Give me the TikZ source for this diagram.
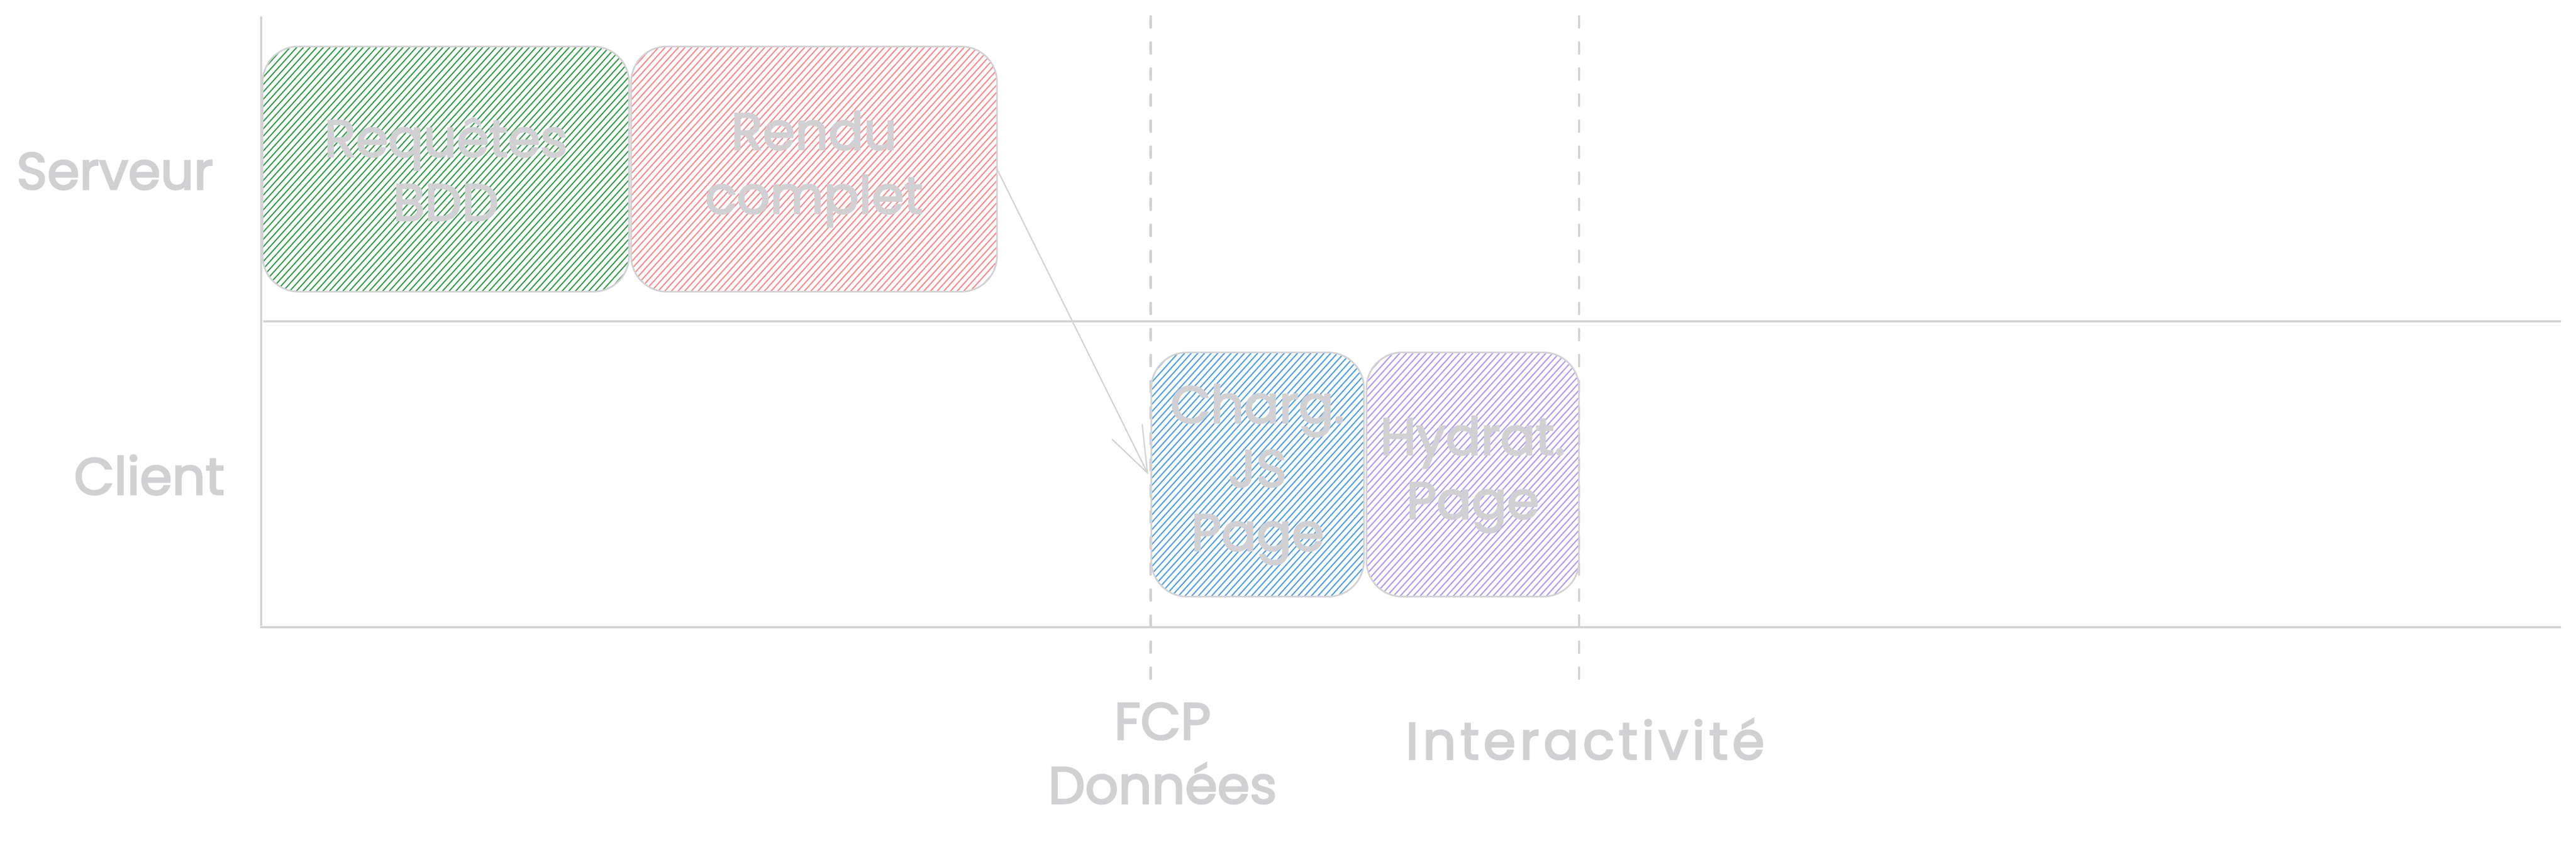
\documentclass[tikz,border=0pt]{standalone}
\usepackage{fontspec}
\setmainfont{Poppins}[FakeBold=3]
\usetikzlibrary{arrows.meta}
\definecolor{txtgray}{RGB}{209,208,211}
\definecolor{lngray}{RGB}{210,210,212}
\definecolor{hgreen}{RGB}{47,158,68}
\definecolor{hred}{RGB}{255,135,135}
\definecolor{hblue}{RGB}{74,158,234}
\definecolor{hviolet}{RGB}{177,151,252}
\tikzset{
  lbl/.style={text=txtgray, font=\fontsize{29pt}{35.6pt}\selectfont, align=center, inner sep=0pt},
  hatch/.style={path picture={
      \foreach \k in {-40,...,60}
        \draw[#1, line width=0.65pt] ([xshift=\k*1.3mm]path picture bounding box.south west) -- ++(48:7.5);
  }},
  phase/.style={lbl, draw=lngray, line width=0.9pt, rounded corners=0.7cm, outer sep=0pt, minimum height=4.8cm},
  axisline/.style={draw=lngray, line width=1pt},
  marker/.style={draw=lngray, line width=1.3pt, line cap=round, dash pattern=on 0.22cm off 0.29cm},
  flow/.style={draw=lngray, line width=0.7pt, -{Straight Barb[length=0.9cm, width=0.66cm, line width=0.7pt]}},
}
\begin{document}
\begin{tikzpicture}
\useasboundingbox[fill=white] (0,0) rectangle (50.41,16.50);
% coordinates of axes
\coordinate (axtop) at (5.11,16.18);
\coordinate (axbot) at (5.11,4.25);
\coordinate (divl) at (5.15,10.21);
\coordinate (divr) at (50.12,10.21);
\coordinate (botl) at (5.09,4.22);
\coordinate (botr) at (50.12,4.22);
\coordinate (m1top) at (22.52,16.18);
\coordinate (m1bot) at (22.52,3.17);
\coordinate (m2top) at (30.90,16.18);
\coordinate (m2bot) at (30.90,3.17);
% milestone dashed lines
\draw[marker] (m1top) -- (m1bot);
\draw[marker] (m2top) -- (m2bot);
% axes
\draw[axisline] (axtop) -- (axbot);
\draw[axisline] (divl) -- (divr);
\draw[axisline] (botl) -- (botr);
% lane labels
\node[lbl] (serveur) at (2.25,13.15) {Serveur};
\node[lbl] (client) at (2.92,7.20) {Client};
% phases
\node[phase, hatch=hgreen, minimum width=7.17cm] (req) at (8.725,13.19) {Requêtes\\BDD};
\node[phase, hatch=hred, minimum width=7.16cm] (rendu) at (15.93,13.19) {Rendu\\complet};
\node[phase, hatch=hblue, minimum width=4.16cm, minimum height=4.78cm] (charg) at (24.61,7.21) {Charg.\\JS\\Page};
\node[phase, hatch=hviolet, minimum width=4.16cm, minimum height=4.78cm] (hydrat) at (28.82,7.21) {Hydrat.\\Page};
% flow arrow
\draw[flow] (rendu.east) -- ([xshift=-0.06cm]charg.west);
% milestone labels
\node[lbl] (fcp) at (22.75,1.75) {FCP\\Données};
\node[lbl] (interact) at (31.02,2.03) {\addfontfeature{LetterSpace=8}Interactivité};
\end{tikzpicture}
\end{document}
